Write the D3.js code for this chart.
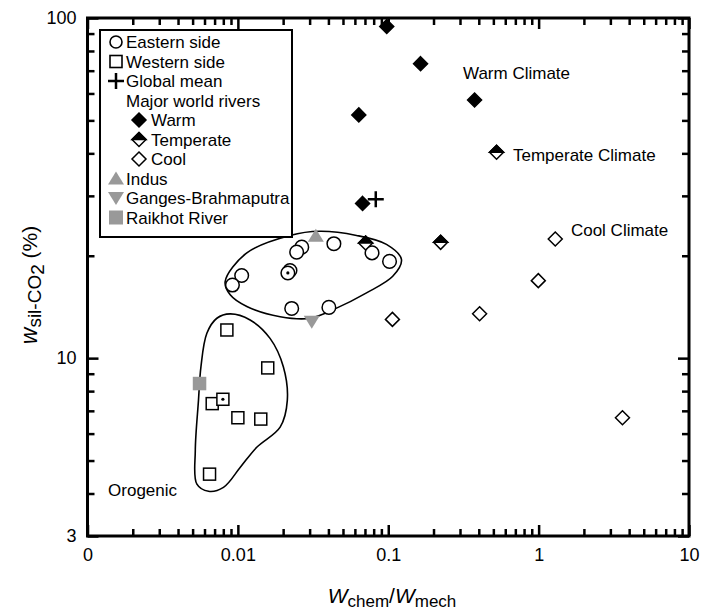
<!DOCTYPE html>
<html><head><meta charset="utf-8">
<script src="https://cdn.jsdelivr.net/npm/d3@7"></script>
<style>body{margin:0;background:#fff}svg{display:block}text{font-family:"Liberation Sans",Arial,sans-serif;fill:#000}</style>
</head><body><svg id="c" width="714" height="613"></svg>
<script>
// ---- data ----
const eastern = [[0.0435,21.7],[0.0266,21.2],[0.0246,20.5],[0.078,20.4],[0.102,19.25],[0.0106,17.5],[0.0092,16.4],[0.0222,18.1],[0.0215,17.8],[0.0228,14.0],[0.0403,14.1]];
const easternDot = [[0.0215,17.8]];
const western = [[0.00845,12.1],[0.0158,9.36],[0.00675,7.35],[0.00795,7.57],[0.0100,6.68],[0.0142,6.62],[0.00648,4.56]];
const westernDot = [[0.00795,7.57]];
const globalMean = [[0.0826,29.3]];
const warm = [[0.0977,94.4],[0.164,73.4],[0.375,57.4],[0.0637,51.9],[0.0675,28.5]];
const temperate = [[0.525,40.3],[0.223,21.9],[0.0707,21.8]];
const cool = [[1.29,22.4],[0.995,16.9],[0.405,13.5],[0.1066,13.0],[3.61,6.68]];
const indus = [[0.033,22.9]];
const ganges = [[0.031,12.8]];
const raikhot = [[0.00556,8.42]];
const easternOutline = [[0.00823,16.8],[0.01147,20.4],[0.0222,22.95],[0.0351,23.6],[0.0615,22.95],[0.0973,21.6],[0.1224,19.5],[0.1071,17.4],[0.0717,15.56],[0.0453,14.03],[0.0302,13.1],[0.0191,13.24],[0.01147,14.18],[0.00889,15.35]];
const westernOutline = [[0.00889,13.49],[0.01206,12.95],[0.01637,11.43],[0.02006,9.43],[0.02132,7.515],[0.0191,6.27],[0.01335,5.47],[0.01035,4.77],[0.00802,4.17],[0.00638,4.06],[0.00534,4.26],[0.00521,5.35],[0.00547,7.515],[0.00568,9.43],[0.00622,11.83],[0.00725,13.1]];
const xMajor = [0.001,0.01,0.1,1,10];
const xLabels = ["0","0.01","0.1","1","10"];
const yMajor = [3,10,100];
const yLabels = ["3","10","100"];
const annotations = [{t:"Warm Climate",x:0.314,y:69},{t:"Temperate Climate",x:0.675,y:39.5},{t:"Cool Climate",x:1.64,y:23.8},{t:"Orogenic",x:0.00137,y:4.09}];

// ---- scales ----
const svg = d3.select("#c");
const L=87.5, R=689, T=18, B=536;
const x = d3.scaleLog().domain([0.001,10]).range([L,R]);
const y = d3.scaleLog().domain([3,100]).range([B,T]);
const xMinor=[], yMinor=[];
[0.001,0.01,0.1,1].forEach(d=>{for(let k=2;k<=9;k++)xMinor.push(d*k);});
[4,5,6,7,8,9,20,30,40,50,60,70,80,90].forEach(v=>yMinor.push(v));

// ---- outlines ----
const outline = d3.line().x(d=>x(d[0])).y(d=>y(d[1])).curve(d3.curveCatmullRomClosed.alpha(0.5));
svg.append("path").attr("d",outline(easternOutline)).attr("fill","none").attr("stroke","#000").attr("stroke-width",1.6);
svg.append("path").attr("d",outline(westernOutline)).attr("fill","none").attr("stroke","#000").attr("stroke-width",1.6);

// ---- axes ----
function styleAxis(g){g.select(".domain").remove();g.selectAll(".tick line").attr("stroke","#000").attr("stroke-width",2.5);g.selectAll("text").attr("font-size",18).attr("font-family",'"Liberation Sans",Arial,sans-serif');}
svg.append("g").attr("transform",`translate(0,${B})`).call(d3.axisBottom(x).tickValues(xMajor).tickSize(-11).tickPadding(12).tickFormat((d,i)=>xLabels[i])).call(styleAxis);
svg.append("g").attr("transform",`translate(0,${B})`).call(d3.axisBottom(x).tickValues(xMinor).tickSize(-7).tickFormat("")).call(styleAxis);
svg.append("g").attr("transform",`translate(0,${T})`).call(d3.axisTop(x).tickValues(xMajor).tickSize(-11).tickFormat("")).call(styleAxis);
svg.append("g").attr("transform",`translate(0,${T})`).call(d3.axisTop(x).tickValues(xMinor).tickSize(-7).tickFormat("")).call(styleAxis);
svg.append("g").attr("transform",`translate(${L},0)`).call(d3.axisLeft(y).tickValues(yMajor).tickSize(-11).tickPadding(11).tickFormat((d,i)=>yLabels[i])).call(styleAxis);
svg.append("g").attr("transform",`translate(${L},0)`).call(d3.axisLeft(y).tickValues(yMinor).tickSize(-7).tickFormat("")).call(styleAxis);
svg.append("g").attr("transform",`translate(${R},0)`).call(d3.axisRight(y).tickValues(yMajor).tickSize(-11).tickFormat("")).call(styleAxis);
svg.append("g").attr("transform",`translate(${R},0)`).call(d3.axisRight(y).tickValues(yMinor).tickSize(-7).tickFormat("")).call(styleAxis);
svg.append("rect").attr("x",L).attr("y",T).attr("width",R-L).attr("height",B-T).attr("fill","none").attr("stroke","#000").attr("stroke-width",3);

// ---- marker helpers ----
const diamondPath = s => `M0,${-s}L${s},0L0,${s}L${-s},0Z`;
function circles(g,data){g.selectAll(null).data(data).enter().append("circle").attr("cx",d=>x(d[0])).attr("cy",d=>y(d[1])).attr("r",6.8).attr("fill","#fff").attr("stroke","#000").attr("stroke-width",1.5);}
function squares(g,data,fill,stroke){g.selectAll(null).data(data).enter().append("rect").attr("x",d=>x(d[0])-6).attr("y",d=>y(d[1])-6).attr("width",12).attr("height",12).attr("fill",fill).attr("stroke",stroke).attr("stroke-width",1.5);}
function dots(g,data){g.selectAll(null).data(data).enter().append("circle").attr("cx",d=>x(d[0])).attr("cy",d=>y(d[1])).attr("r",1.6).attr("fill","#000");}
function diamonds(g,data,fill){g.selectAll(null).data(data).enter().append("path").attr("transform",d=>`translate(${x(d[0])},${y(d[1])})`).attr("d",diamondPath(7)).attr("fill",fill).attr("stroke","#000").attr("stroke-width",1.5).attr("stroke-linejoin","miter");}
function halfDiamonds(g,data){const s=g.selectAll(null).data(data).enter().append("g").attr("transform",d=>`translate(${x(d[0])},${y(d[1])})`);
 s.append("path").attr("d",diamondPath(7)).attr("fill","#fff").attr("stroke","#000").attr("stroke-width",1.5);
 s.append("path").attr("d","M-7,0L0,-7L7,0Z").attr("fill","#000").attr("stroke","#000").attr("stroke-width",1.5);}
function tri(g,data,up){g.selectAll(null).data(data).enter().append("path").attr("transform",d=>`translate(${x(d[0])},${y(d[1])})`).attr("d",up?"M0,-7L8,6L-8,6Z":"M0,7L8,-6L-8,-6Z").attr("fill","#999");}
function plus(g,data){g.selectAll(null).data(data).enter().append("path").attr("transform",d=>`translate(${x(d[0])},${y(d[1])})`).attr("d","M-8,0H8M0,-8V8").attr("stroke","#000").attr("stroke-width",2.5);}

const m = svg.append("g");
tri(m,indus,true);
tri(m,ganges,false);
circles(m,eastern); dots(m,easternDot);
squares(m,western,"#fff","#000"); dots(m,westernDot);
squares(m,raikhot,"#999","#999");
diamonds(m,warm,"#000");
halfDiamonds(m,temperate);
diamonds(m,cool,"#fff");
plus(m,globalMean);

// ---- annotations ----
svg.selectAll(null).data(annotations).enter().append("text").attr("x",d=>x(d.x)).attr("y",d=>y(d.y)).attr("dy","0.35em").attr("font-size",17).text(d=>d.t);

// ---- legend ----
const lg = svg.append("g");
lg.append("rect").attr("x",100).attr("y",30).attr("width",192).attr("height",207).attr("fill","#fff").attr("stroke","#000").attr("stroke-width",2);
const rowY = i => 42 + i*19.5;
const items = [
 {t:"Eastern side",m:"circle"},{t:"Western side",m:"square"},{t:"Global mean",m:"plus"},{t:"Major world rivers",m:null},
 {t:"Warm",m:"warm",ind:true},{t:"Temperate",m:"temp",ind:true},{t:"Cool",m:"cool",ind:true},
 {t:"Indus",m:"up"},{t:"Ganges-Brahmaputra",m:"down"},{t:"Raikhot River",m:"gsq"}];
items.forEach((it,i)=>{
 const cy=rowY(i), mx = it.ind?139:116;
 const g = lg.append("g").attr("transform",`translate(${mx},${cy})`);
 if(it.m==="circle") g.append("circle").attr("r",6).attr("fill","#fff").attr("stroke","#000").attr("stroke-width",1.6);
 if(it.m==="square") g.append("rect").attr("x",-6).attr("y",-6).attr("width",12).attr("height",12).attr("fill","#fff").attr("stroke","#000").attr("stroke-width",1.6);
 if(it.m==="plus") g.append("path").attr("d","M-8,0H8M0,-8V8").attr("stroke","#000").attr("stroke-width",2.5);
 if(it.m==="warm") g.append("path").attr("d",diamondPath(7)).attr("fill","#000").attr("stroke","#000").attr("stroke-width",1.5);
 if(it.m==="temp"){g.append("path").attr("d",diamondPath(7)).attr("fill","#fff").attr("stroke","#000").attr("stroke-width",1.5);g.append("path").attr("d","M-7,0L0,-7L7,0Z").attr("fill","#000").attr("stroke","#000").attr("stroke-width",1.5);}
 if(it.m==="cool") g.append("path").attr("d",diamondPath(7)).attr("fill","#fff").attr("stroke","#000").attr("stroke-width",1.5);
 if(it.m==="up") g.append("path").attr("d","M0,-7L8,6L-8,6Z").attr("fill","#999");
 if(it.m==="down") g.append("path").attr("d","M0,7L8,-6L-8,-6Z").attr("fill","#999");
 if(it.m==="gsq") g.append("rect").attr("x",-7).attr("y",-7).attr("width",14).attr("height",14).attr("fill","#999");
 lg.append("text").attr("x",it.ind?151:126).attr("y",cy).attr("dy","0.36em").attr("font-size",17).text(it.t);
});

// ---- axis titles ----
const xt = svg.append("text").attr("x",392).attr("y",603).attr("text-anchor","middle").attr("font-size",21);
xt.append("tspan").attr("font-style","italic").text("W");
xt.append("tspan").attr("font-size",17).attr("dy",4).text("chem");
xt.append("tspan").attr("dy",-4).text("/");
xt.append("tspan").attr("font-style","italic").text("W");
xt.append("tspan").attr("font-size",17).attr("dy",4).text("mech");

const yt = svg.append("text").attr("transform","translate(37,285) rotate(-90)").attr("text-anchor","middle").attr("font-size",21);
yt.append("tspan").attr("font-style","italic").attr("font-size",23).text("w");
yt.append("tspan").attr("font-size",19).attr("dy",4).text("sil-CO");
yt.append("tspan").attr("font-size",19).attr("dy",3).text("2");
yt.append("tspan").attr("dy",-7).text(" (%)");
</script></body></html>
